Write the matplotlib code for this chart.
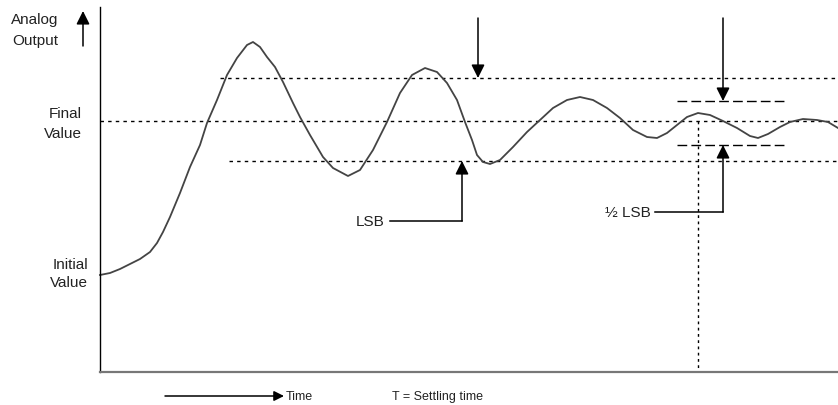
import matplotlib.pyplot as plt

# settling curve (time, analog output)
curve_t = [0, 10, 20, 30, 40, 50, 57, 63, 70, 80, 90, 100, 107, 117, 127, 137, 147, 153, 160, 167,
           175, 183, 193, 200, 210, 223, 233, 248, 260, 273, 287, 300, 312, 325, 337, 347, 357, 365,
           372, 377, 383, 390, 400, 413, 427, 440, 453, 467, 480, 493, 507, 520, 533, 547, 557, 567,
           577, 587, 598, 610, 623, 637, 650, 658, 668, 680, 690, 703, 717, 728, 738]
curve_v = [97, 99, 103, 108, 113, 120, 129, 140, 155, 179, 205, 227, 249, 272, 297, 314, 327, 330, 325, 315,
           305, 290, 269, 255, 237, 215, 204, 196, 202, 222, 250, 279, 297, 304, 300, 289, 272, 250,
           232, 217, 210, 208, 212, 225, 240, 252, 264, 272, 275, 272, 264, 254, 242, 235, 234, 239,
           247, 255, 259, 257, 251, 244, 236, 234, 238, 245, 250, 253, 252, 250, 244]

final_value = 251
lsb_upper, lsb_lower = 294, 211
half_upper, half_lower = 271, 227
settling_t = 598
t_max, v_max = 738, 365

FONT = dict(family=["Liberation Sans", "DejaVu Sans"], fontsize=11, color="#222222")
SMALL = dict(family=["Liberation Sans", "DejaVu Sans"], fontsize=9, color="#222222")

fig = plt.figure(figsize=(8.38, 4.05), dpi=100)
ax = fig.add_axes([100 / 838, 33 / 405, 738 / 838, 365 / 405])
ax.set_xlim(0, t_max)
ax.set_ylim(0, v_max)
ax.set_xticks([])
ax.set_yticks([])
for s in ["top", "right"]:
    ax.spines[s].set_visible(False)
ax.spines["left"].set_linewidth(1.0)
ax.spines["bottom"].set_linewidth(1.6)
ax.spines["bottom"].set_color("#777777")

# reference levels
dot = (0, (2.5, 3))
ax.plot([0, t_max], [final_value, final_value], color="k", lw=1.0, ls=dot, clip_on=False)
ax.plot([120, t_max], [lsb_upper, lsb_upper], color="k", lw=1.0, ls=dot, clip_on=False)
ax.plot([129, t_max], [lsb_lower, lsb_lower], color="k", lw=1.0, ls=dot, clip_on=False)
ax.plot([577, 687], [half_upper, half_upper], color="k", lw=1.0, ls=(0, (7, 3)))
ax.plot([577, 687], [half_lower, half_lower], color="k", lw=1.0, ls=(0, (7, 3)))
ax.plot([settling_t, settling_t], [final_value, 0], color="k", lw=1.0, ls=(0, (2, 2.5)))

# the output curve
ax.plot(curve_t, curve_v, color="#444444", lw=1.3, solid_joinstyle="round", clip_on=False)

arrow = dict(arrowstyle="-|>", color="k", lw=1.1, mutation_scale=20, shrinkA=0, shrinkB=0)

# down arrows from the top
ax.annotate("", xy=(378, lsb_upper), xytext=(378, 354), arrowprops=arrow)
ax.annotate("", xy=(623, half_upper), xytext=(623, 354), arrowprops=arrow)

# LSB callout
ax.plot([290, 362], [151, 151], color="k", lw=1.1)
ax.annotate("", xy=(362, lsb_lower), xytext=(362, 151), arrowprops=arrow)
ax.text(284, 150.5, "LSB", ha="right", va="center", **FONT)

# half LSB callout
ax.plot([555, 623], [160, 160], color="k", lw=1.1)
ax.annotate("", xy=(623, half_lower), xytext=(623, 160), arrowprops=arrow)
ax.text(551, 159, "½ LSB", ha="right", va="center", **FONT)

# axis captions
ax.text(-89, 352, "Analog", ha="left", va="center", **FONT)
ax.text(-88, 331, "Output", ha="left", va="center", **FONT)
ax.annotate("", xy=(-17, 361), xytext=(-17, 326), arrowprops=arrow, annotation_clip=False)
ax.text(-18, 258, "Final", ha="right", va="center", **FONT)
ax.text(-18, 238, "Value", ha="right", va="center", **FONT)
ax.text(-12, 107, "Initial", ha="right", va="center", **FONT)
ax.text(-12, 89, "Value", ha="right", va="center", **FONT)

small_arrow = dict(arrow, mutation_scale=15)
ax.annotate("", xy=(184, -24), xytext=(65, -24), arrowprops=small_arrow, annotation_clip=False)
ax.text(186, -25, "Time", ha="left", va="center", **SMALL)
ax.text(292, -25, "T = Settling time", ha="left", va="center", **SMALL)

fig.savefig("out.png", dpi=100)
